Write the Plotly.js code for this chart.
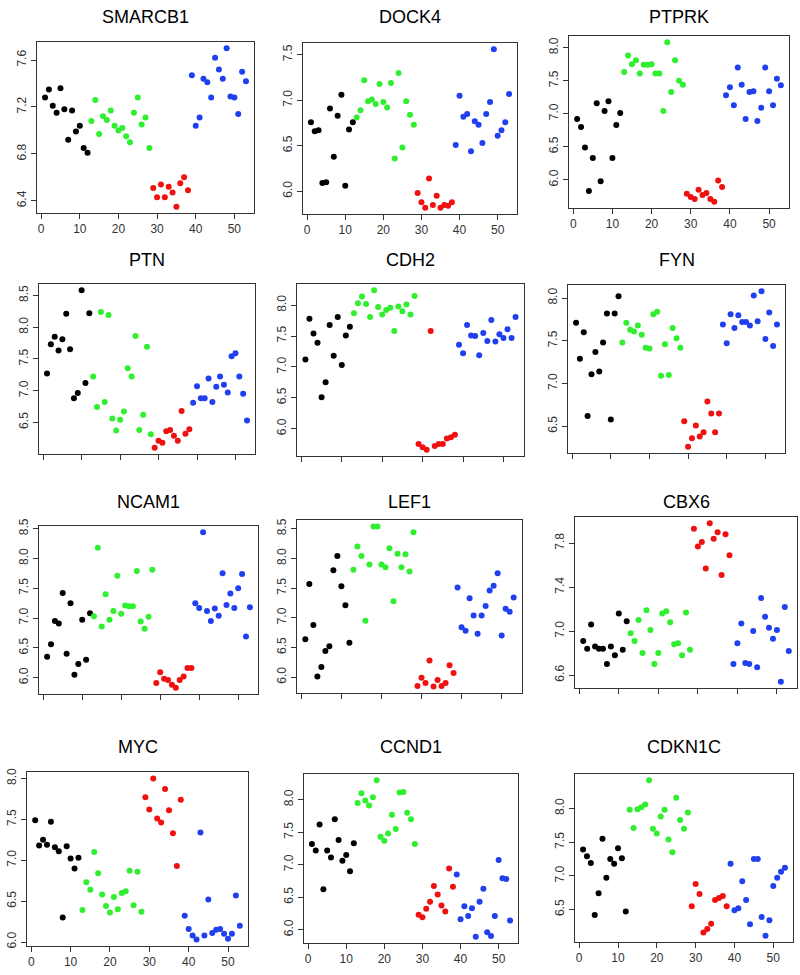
<!DOCTYPE html>
<html>
<head>
<meta charset="utf-8">
<script src="https://cdn.plot.ly/plotly-3.0.1.min.js"></script>
<style>html,body{margin:0;padding:0;background:#fff}</style>
</head>
<body>
<div id="chart" style="width:800px;height:975px"></div>
<script>
// sample groups: 12 black, 16 green, 10 red, 15 blue (samples 1..53)
const groupSizes = [12, 16, 10, 15];
const groupColors = ['#000000', '#2fef2f', '#f01010', '#2040f0'];

const genes = ['SMARCB1', 'DOCK4', 'PTPRK', 'PTN', 'CDH2', 'FYN',
               'NCAM1', 'LEF1', 'CBX6', 'MYC', 'CCND1', 'CDKN1C'];

const smarcb1 = [7.28,7.35,7.21,7.15,7.36,7.18,6.92,7.17,6.99,7.04,6.85,6.81,
  7.08,7.26,6.97,7.12,7.09,7.17,7.04,7.00,7.02,6.95,6.90,7.15,7.28,7.05,7.11,6.85,
  6.51,6.43,6.54,6.43,6.52,6.47,6.35,6.55,6.60,6.49,
  7.47,7.04,7.11,7.44,7.41,7.28,7.62,7.52,7.44,7.70,7.29,7.28,7.14,7.50,7.42];
const dock4 = [6.76,6.66,6.67,6.09,6.10,6.91,6.38,6.83,7.06,6.06,6.68,6.76,
  6.81,6.89,7.22,6.99,7.01,6.96,7.18,6.98,6.92,7.19,6.36,7.30,6.48,6.99,6.84,6.73,
  5.98,5.88,5.82,6.14,5.85,5.95,5.82,5.85,5.84,5.88,
  6.51,7.05,6.82,6.85,6.44,6.77,6.73,6.53,6.85,6.98,7.56,6.61,6.67,6.76,7.07];
const ptprk = [6.92,6.80,6.49,5.83,6.33,7.16,5.98,7.04,7.19,6.33,6.83,7.01,
  7.63,7.88,7.75,7.81,7.61,7.74,7.74,7.75,7.61,7.61,7.04,8.08,7.33,7.81,7.50,7.44,
  5.79,5.74,5.71,5.85,5.77,5.80,5.71,5.67,5.99,5.89,
  7.28,7.40,7.13,7.70,7.44,6.92,7.33,7.34,6.89,7.09,7.70,7.34,7.13,7.53,7.43];
const ptn = [7.27,7.73,7.85,7.63,7.81,8.21,7.65,6.88,6.96,8.58,7.12,8.22,
  7.22,6.74,8.24,6.82,8.19,6.56,6.37,6.54,6.67,7.35,7.22,7.86,6.38,6.62,7.69,6.31,
  6.10,6.21,6.18,6.36,6.38,6.29,6.21,6.68,6.32,6.39,
  6.81,7.07,6.88,6.88,7.19,6.82,7.06,7.22,7.09,6.97,7.54,7.59,7.22,6.95,6.53];
const cdh2 = [7.12,7.78,7.54,7.39,6.51,6.75,7.68,7.18,7.81,7.03,7.51,7.65,
  7.87,8.03,8.14,8.02,7.81,8.24,7.97,7.85,7.92,7.96,7.58,7.98,7.90,8.01,7.85,8.15,
  5.75,5.70,5.66,7.58,5.72,5.75,5.75,5.84,5.86,5.90,
  7.36,7.22,7.68,7.51,7.50,7.19,7.55,7.42,7.76,7.41,7.53,7.47,7.61,7.47,7.81];
const fyn = [7.71,7.29,7.60,6.62,7.11,7.37,7.14,7.48,7.82,6.58,7.82,8.02,
  7.48,7.71,7.63,7.61,7.68,7.57,7.42,7.41,7.81,7.84,7.09,7.46,7.10,7.65,7.53,7.42,
  6.56,6.26,6.36,6.51,6.38,6.43,6.79,6.65,6.43,6.65,
  7.69,7.47,7.81,7.65,7.80,7.72,7.72,7.68,8.03,7.73,8.08,7.52,7.83,7.44,7.69];
const ncam1 = [6.35,6.56,6.95,6.91,7.42,6.40,7.25,6.05,6.23,6.97,6.30,7.08,
  7.03,8.18,6.86,7.40,6.97,7.12,7.71,7.07,7.21,7.20,7.20,7.79,6.94,6.82,7.02,7.81,
  5.91,6.09,5.98,5.96,5.88,5.83,5.96,6.02,6.16,6.16,
  7.25,7.17,8.44,7.12,6.95,7.16,7.04,7.75,7.22,7.41,7.17,7.50,7.74,6.69,7.18];
const lef1 = [6.64,7.57,6.88,6.01,6.17,6.44,6.52,7.80,8.04,7.53,7.21,6.58,
  7.81,8.20,8.04,6.95,7.90,8.54,8.54,7.90,7.85,8.17,7.28,8.08,7.85,8.07,7.78,8.44,
  5.85,5.99,5.90,6.28,5.84,5.95,5.85,5.90,6.20,6.07,
  7.51,6.84,6.78,7.33,7.04,6.73,7.04,7.20,7.46,7.54,7.75,6.70,7.15,7.10,7.34];
const cbx6 = [6.91,6.84,7.06,6.86,6.84,6.84,6.70,6.86,6.78,7.16,6.83,7.09,
  6.98,6.91,7.10,6.80,7.19,7.01,6.70,6.80,7.16,7.18,7.08,6.88,6.89,6.78,7.17,6.83,
  7.93,7.77,7.81,7.57,7.98,7.84,7.90,7.51,7.88,7.69,
  6.70,6.89,7.07,6.71,6.70,7.00,6.67,7.30,7.13,7.03,6.93,7.01,6.54,7.22,6.82];
const myc = [7.49,7.18,7.25,7.19,7.47,7.16,7.11,6.30,7.17,7.02,6.90,7.03,
  6.39,6.73,6.64,7.10,6.84,6.58,6.44,6.36,6.55,6.40,6.60,6.62,6.87,6.45,6.86,6.37,
  7.77,7.62,8.00,7.51,7.46,7.87,7.61,7.33,6.93,7.74,
  6.32,6.16,6.08,6.03,7.34,6.08,6.52,6.11,6.15,6.16,6.10,6.04,6.10,6.57,6.20];
const ccnd1 = [7.32,7.22,7.62,6.62,7.22,7.11,7.70,7.38,7.06,7.15,6.90,7.33,
  7.95,8.10,7.99,7.91,8.04,8.30,7.43,7.37,7.48,7.77,7.55,8.11,8.12,7.80,7.70,7.32,
  6.23,6.19,6.32,6.43,6.67,6.54,6.37,6.28,6.94,6.66,
  6.85,6.16,6.36,6.21,6.33,5.89,6.43,6.63,5.96,5.90,6.21,7.07,6.79,6.78,6.14];
const cdkn1c = [7.39,7.29,7.19,6.42,6.74,7.55,6.97,7.25,7.18,7.41,7.26,6.47,
  7.98,7.71,7.99,8.02,8.06,8.42,7.70,7.63,7.88,7.98,7.54,7.35,8.16,7.83,7.70,7.94,
  6.55,6.88,6.73,6.16,6.21,6.29,6.64,6.67,6.70,6.55,
  7.18,6.49,6.52,6.92,6.64,6.28,7.25,7.25,6.39,6.11,6.34,6.85,6.97,7.06,7.12];

const geneValues = [smarcb1, dock4, ptprk, ptn, cdh2, fyn, ncam1, lef1, cbx6, myc, ccnd1, cdkn1c];

// y tick values per panel
const yTicks = [
  [6.4, 6.8, 7.2, 7.6], [6.0, 6.5, 7.0, 7.5], [6.0, 6.5, 7.0, 7.5, 8.0],
  [6.0, 6.5, 7.0, 7.5, 8.0, 8.5], [6.0, 6.5, 7.0, 7.5, 8.0], [6.5, 7.0, 7.5, 8.0],
  [6.0, 6.5, 7.0, 7.5, 8.0, 8.5], [6.0, 6.5, 7.0, 7.5, 8.0, 8.5], [6.6, 7.0, 7.4, 7.8],
  [6.0, 6.5, 7.0, 7.5, 8.0], [6.0, 6.5, 7.0, 7.5, 8.0], [6.5, 7.0, 7.5, 8.0]
];
const xTicks = [0, 10, 20, 30, 40, 50];

// plot frames in page pixels: left, right, top, bottom
const W = 800, H = 975;
const frames = [
  [37, 254, 42, 213], [303, 517, 43, 214], [569, 789, 36, 208],
  [39, 255, 284, 454], [297, 524, 284, 456], [568, 785, 285, 453],
  [39, 258, 526, 694], [297, 522, 520, 693], [575, 797, 517, 688],
  [27, 248, 772, 946], [304, 518, 774, 943], [575, 793, 774, 942]
];
const titleY = [17, 17, 17, 260, 260, 260, 502, 502, 502, 747, 747, 747];

// sample index and colour for each point
let sampleIdx = [];
let pointColors = [];
let n = 1;
groupSizes.forEach(function (size, g) {
    for (let k = 0; k < size; k++) {
        sampleIdx.push(n++);
        pointColors.push(groupColors[g]);
    }
});

const tickFont = {family: 'Liberation Sans, Arial, sans-serif', size: 12, color: '#333'};

let data = [];
let layout = {
    width: W,
    height: H,
    margin: {l: 0, r: 0, t: 0, b: 0},
    paper_bgcolor: '#fff',
    plot_bgcolor: '#fff',
    showlegend: false,
    annotations: []
};

genes.forEach(function (gene, i) {
    const vals = geneValues[i];
    const suffix = i === 0 ? '' : String(i + 1);
    const f = frames[i];

    data.push({
        x: sampleIdx,
        y: vals,
        type: 'scatter',
        mode: 'markers',
        xaxis: 'x' + suffix,
        yaxis: 'y' + suffix,
        marker: {color: pointColors, size: 6},
        name: gene,
        hoverinfo: 'x+y'
    });

    // R-style 4% padding around the data range
    const lo = Math.min.apply(null, vals), hi = Math.max.apply(null, vals);
    const pad = (hi - lo) * 0.04;
    const row = Math.floor(i / 3);

    const axisStyle = {
        showline: true, mirror: true, linecolor: '#333', linewidth: 1,
        ticks: 'outside', ticklen: 5, tickcolor: '#333',
        showgrid: false, zeroline: false, tickfont: tickFont
    };

    layout['xaxis' + suffix] = Object.assign({}, axisStyle, {
        domain: [f[0] / W, f[1] / W],
        anchor: 'y' + suffix,
        range: [1 - 52 * 0.04, 53 + 52 * 0.04],
        tickvals: xTicks,
        showticklabels: row === 0 || row === 3
    });
    layout['yaxis' + suffix] = Object.assign({}, axisStyle, {
        domain: [1 - f[3] / H, 1 - f[2] / H],
        anchor: 'x' + suffix,
        range: [lo - pad, hi + pad],
        tickvals: yTicks[i],
        tickformat: '.1f',
        tickangle: -90
    });

    layout.annotations.push({
        text: gene,
        xref: 'paper', yref: 'paper',
        x: (f[0] + f[1]) / 2 / W,
        y: 1 - titleY[i] / H,
        xanchor: 'center', yanchor: 'middle',
        showarrow: false,
        font: {family: 'Liberation Sans, Arial, sans-serif', size: 18, color: '#000'}
    });
});

Plotly.newPlot('chart', data, layout, {displayModeBar: false, staticPlot: true});
</script>
</body>
</html>
